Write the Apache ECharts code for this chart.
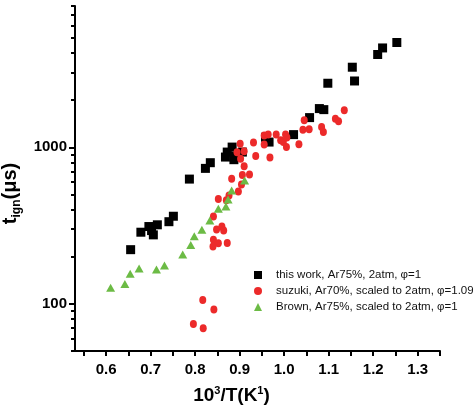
<!DOCTYPE html>
<html>
<head>
<meta charset="utf-8">
<script src="https://cdn.jsdelivr.net/npm/echarts@6/dist/echarts.min.js"></script>
<style>
  html, body { margin: 0; padding: 0; background: #fff; }
  #chart { width: 473px; height: 419px; }
</style>
</head>
<body>
<div id="chart"></div>
<script>
// Ignition delay times vs inverse temperature: [1000/T (1/K), t_ign (µs)]
const thisWork = [
  [0.655, 222], [0.678, 287], [0.696, 312], [0.702, 294], [0.706, 276],
  [0.715, 320], [0.741, 335], [0.751, 363], [0.787, 627], [0.823, 734],
  [0.834, 798], [0.868, 867], [0.872, 933], [0.883, 1004], [0.887, 834],
  [0.890, 880], [0.906, 933], [0.958, 1160], [0.966, 1081], [1.021, 1206],
  [1.057, 1549], [1.079, 1769], [1.089, 1742], [1.098, 2568], [1.153, 3251],
  [1.158, 2655], [1.210, 3920], [1.221, 4316], [1.253, 4677]
];

const suzuki = [
  [0.817, 106], [0.842, 92], [0.796, 74.5], [0.818, 70],
  [0.841, 362], [0.848, 299], [0.860, 312], [0.864, 294], [0.841, 257],
  [0.852, 244], [0.840, 233], [0.872, 245],
  [0.852, 468], [0.870, 459], [0.876, 493], [0.897, 523],
  [0.882, 630], [0.906, 665], [0.922, 672], [0.904, 580],
  [0.910, 758], [0.902, 847], [0.894, 930], [0.910, 943], [0.901, 1056],
  [0.931, 1075], [0.936, 879], [0.968, 862], [0.955, 1041], [0.955, 1190],
  [0.964, 1206], [0.982, 1210], [0.992, 1109], [0.998, 1081], [1.003, 1206],
  [1.006, 1154], [1.005, 1004], [1.033, 1045], [1.045, 1489], [1.042, 1298],
  [1.056, 1304], [1.084, 1349], [1.088, 1254], [1.115, 1526], [1.122, 1467],
  [1.135, 1725]
];

const brown = [
  [0.610, 127], [0.642, 134], [0.654, 156], [0.674, 168], [0.713, 166],
  [0.731, 176], [0.772, 207], [0.790, 238], [0.798, 270], [0.815, 298],
  [0.833, 341], [0.852, 405], [0.869, 419], [0.874, 464], [0.882, 531],
  [0.911, 615]
];

const seriesNames = [
  'this work, Ar75%, 2atm, φ=1',
  'suzuki, Ar70%, scaled to 2atm, φ=1.09',
  'Brown, Ar75%, scaled to 2atm, φ=1'
];

const xTickValues = [0.55, 0.6, 0.65, 0.7, 0.75, 0.8, 0.85, 0.9, 0.95, 1.0,
  1.05, 1.1, 1.15, 1.2, 1.25, 1.3, 1.35];
const xLabelValues = [0.6, 0.7, 0.8, 0.9, 1.0, 1.1, 1.2, 1.3];
const yMajorTicks = [100, 1000];
const yMinorTicks = [50, 60, 70, 80, 90, 200, 300, 400, 500, 600, 700, 800, 900,
  2000, 3000, 4000, 5000, 6000, 7000, 8000];

const FONT = '"Liberation Sans", Arial, sans-serif';

const chart = echarts.init(document.getElementById('chart'), null, { renderer: 'canvas' });

chart.setOption({
  animation: false,
  backgroundColor: '#fff',
  textStyle: { fontFamily: FONT },
  grid: { left: 75, right: 33, top: 6, bottom: 68, containLabel: false, outerBoundsMode: 'none' },
  legend: {
    orient: 'vertical',
    left: 249,
    top: 264,
    itemWidth: 8,
    itemHeight: 8,
    itemGap: 4,
    textStyle: { fontFamily: FONT, fontSize: 11.5, color: '#111', lineHeight: 12, padding: [0, 0, 0, 9] },
    data: seriesNames
  },
  xAxis: {
    type: 'value',
    min: 0.53,
    max: 1.35,
    name: '{b|10}{s|3}{b|/T(K}{s|1}{b|)}',
    nameLocation: 'middle',
    nameGap: 34,
    nameTextStyle: {
      padding: [0, 52, 0, 0],
      rich: {
        b: { fontFamily: FONT, fontSize: 19, fontWeight: 'bold', color: '#000', lineHeight: 22 },
        s: { fontFamily: FONT, fontSize: 11, fontWeight: 'bold', color: '#000', verticalAlign: 'top', lineHeight: 22 }
      }
    },
    axisLine: { lineStyle: { color: '#000', width: 2 } },
    axisTick: { show: true, inside: false, length: 5, lineStyle: { color: '#000', width: 2 }, customValues: xTickValues },
    axisLabel: {
      customValues: xLabelValues,
      formatter: v => v.toFixed(1),
      fontFamily: FONT, fontSize: 15, fontWeight: 'bold', color: '#000', margin: 11
    },
    splitLine: { show: false }
  },
  yAxis: [
    {
      type: 'log',
      min: 50,
      max: 8000,
      logBase: 10,
      name: '{b|t}{sub|ign}{b|(μs)}',
      nameLocation: 'middle',
      nameGap: 44,
      nameTextStyle: {
        padding: [0, 30, 0, 0],
        rich: {
          b: { fontFamily: FONT, fontSize: 20, fontWeight: 'bold', color: '#000', lineHeight: 24 },
          sub: { fontFamily: FONT, fontSize: 12, fontWeight: 'bold', color: '#000', verticalAlign: 'bottom', lineHeight: 24 }
        }
      },
      axisLine: { show: true, lineStyle: { color: '#000', width: 2 } },
      axisTick: { show: true, inside: false, length: 6, lineStyle: { color: '#000', width: 2 }, customValues: yMajorTicks },
      axisLabel: {
        customValues: yMajorTicks,
        formatter: v => String(Math.round(v)),
        fontFamily: FONT, fontSize: 15, fontWeight: 'bold', color: '#000', margin: 8
      },
      splitLine: { show: false },
      minorTick: { show: false }
    },
    {
      // minor decade ticks drawn on the same left edge
      type: 'log',
      min: 50,
      max: 8000,
      position: 'left',
      offset: 0,
      axisLine: { show: false },
      axisTick: { show: true, inside: false, length: 4, lineStyle: { color: '#000', width: 2 }, customValues: yMinorTicks },
      axisLabel: { show: false },
      splitLine: { show: false }
    }
  ],
  series: [
    {
      name: seriesNames[0], type: 'scatter', data: thisWork,
      symbol: 'rect', symbolSize: 9,
      itemStyle: { color: '#000', opacity: 1 }
    },
    {
      name: seriesNames[1], type: 'scatter', data: suzuki,
      symbol: 'circle', symbolSize: [7, 8],
      itemStyle: { color: '#ec2a2a', opacity: 1 }
    },
    {
      name: seriesNames[2], type: 'scatter', data: brown,
      symbol: 'triangle', symbolSize: [9, 8],
      itemStyle: { color: '#6cbb45', opacity: 1 }
    }
  ]
});
</script>
</body>
</html>
